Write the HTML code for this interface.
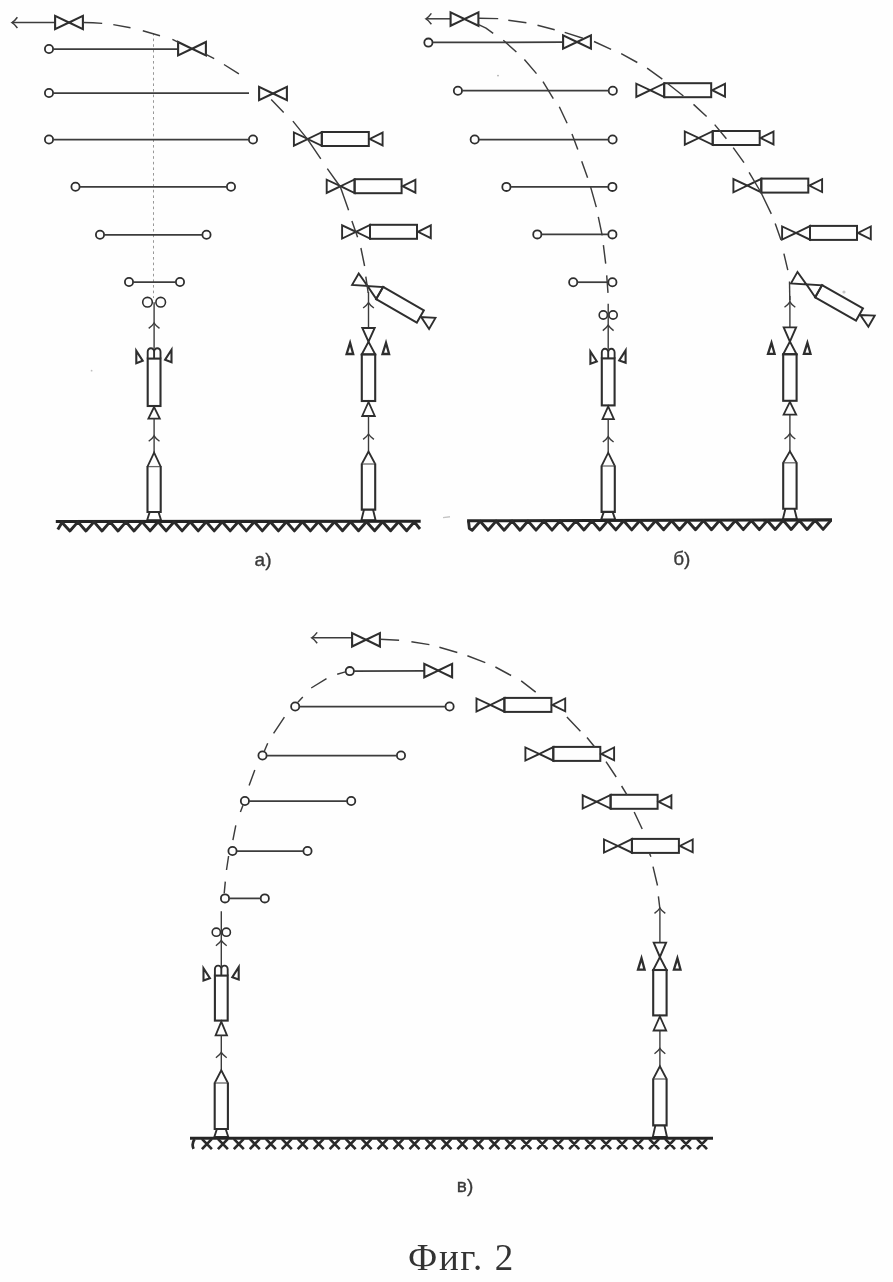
<!DOCTYPE html>
<html lang="ru">
<head>
<meta charset="utf-8">
<title>Фиг. 2</title>
<style>
html,body{margin:0;padding:0;background:#fefefe;}
body{width:893px;height:1282px;position:relative;overflow:hidden;font-family:"Liberation Sans",sans-serif;}
</style>
</head>
<body>
<svg width="893" height="1282" viewBox="0 0 893 1282" style="display:block;position:absolute;left:0;top:0;filter:blur(0.55px)">
<line x1="153.5" y1="33" x2="153.5" y2="298" stroke="#8c8c8c" stroke-width="0.9" stroke-dasharray="2.6 3"/>
<line x1="12" y1="22.6" x2="55" y2="22.6" stroke="#3c3c3c" stroke-width="1.5" />
<path d="M17.4 17.2 Q14.2 21.4 12 22.6 Q14.2 23.8 17.4 28" fill="none" stroke="#3c3c3c" stroke-width="1.5"/>
<path d="M55.1 15.8 L55.1 29.2 L69 22.5 Z" fill="none" stroke="#2e2e2e" stroke-width="2.1" stroke-linejoin="miter" />
<path d="M82.9 15.8 L82.9 29.2 L69 22.5 Z" fill="none" stroke="#2e2e2e" stroke-width="2.1" stroke-linejoin="miter" />
<circle cx="49" cy="49" r="4.1" fill="none" stroke="#2e2e2e" stroke-width="1.8"/>
<line x1="53.2" y1="49" x2="177.8" y2="49" stroke="#3c3c3c" stroke-width="1.75" />
<path d="M178.1 42 L178.1 55.4 L192 48.7 Z" fill="none" stroke="#2e2e2e" stroke-width="2.1" stroke-linejoin="miter" />
<path d="M205.9 42 L205.9 55.4 L192 48.7 Z" fill="none" stroke="#2e2e2e" stroke-width="2.1" stroke-linejoin="miter" />
<circle cx="49" cy="93" r="4.1" fill="none" stroke="#2e2e2e" stroke-width="1.8"/>
<line x1="53.2" y1="93" x2="249" y2="93" stroke="#3c3c3c" stroke-width="1.75" />
<path d="M259.1 86.8 L259.1 100.2 L273 93.5 Z" fill="none" stroke="#2e2e2e" stroke-width="2.1" stroke-linejoin="miter" />
<path d="M286.9 86.8 L286.9 100.2 L273 93.5 Z" fill="none" stroke="#2e2e2e" stroke-width="2.1" stroke-linejoin="miter" />
<circle cx="49" cy="139.5" r="4.1" fill="none" stroke="#2e2e2e" stroke-width="1.8"/>
<circle cx="253" cy="139.5" r="4.1" fill="none" stroke="#2e2e2e" stroke-width="1.8"/>
<line x1="53.1" y1="139.5" x2="248.9" y2="139.5" stroke="#3c3c3c" stroke-width="1.75" />
<circle cx="75.5" cy="186.8" r="4.1" fill="none" stroke="#2e2e2e" stroke-width="1.8"/>
<circle cx="231" cy="186.8" r="4.1" fill="none" stroke="#2e2e2e" stroke-width="1.8"/>
<line x1="79.6" y1="186.8" x2="226.9" y2="186.8" stroke="#3c3c3c" stroke-width="1.75" />
<circle cx="100" cy="234.8" r="4.1" fill="none" stroke="#2e2e2e" stroke-width="1.8"/>
<circle cx="206.5" cy="234.8" r="4.1" fill="none" stroke="#2e2e2e" stroke-width="1.8"/>
<line x1="104.1" y1="234.8" x2="202.4" y2="234.8" stroke="#3c3c3c" stroke-width="1.75" />
<circle cx="129" cy="282" r="4.1" fill="none" stroke="#2e2e2e" stroke-width="1.8"/>
<circle cx="180" cy="282" r="4.1" fill="none" stroke="#2e2e2e" stroke-width="1.8"/>
<line x1="133.1" y1="282" x2="175.9" y2="282" stroke="#3c3c3c" stroke-width="1.75" />
<g>
<path d="M293.9 132.5 L293.9 145.7 L307.8 139 Z" fill="none" stroke="#2e2e2e" stroke-width="1.9" stroke-linejoin="miter" />
<path d="M321.8 132.2 L321.8 145.8 L307.8 139 Z" fill="none" stroke="#2e2e2e" stroke-width="1.9" stroke-linejoin="miter" />
<rect x="321.8" y="132" width="47" height="14" fill="none" stroke="#2e2e2e" stroke-width="2"/>
<path d="M382.6 132.6 L382.6 145.4 L369.8 139 Z" fill="none" stroke="#2e2e2e" stroke-width="1.9" stroke-linejoin="miter" />
</g>
<g>
<path d="M326.7 179.7 L326.7 192.9 L340.6 186.2 Z" fill="none" stroke="#2e2e2e" stroke-width="1.9" stroke-linejoin="miter" />
<path d="M354.6 179.4 L354.6 193 L340.6 186.2 Z" fill="none" stroke="#2e2e2e" stroke-width="1.9" stroke-linejoin="miter" />
<rect x="354.6" y="179.2" width="47" height="14" fill="none" stroke="#2e2e2e" stroke-width="2"/>
<path d="M415.4 179.8 L415.4 192.6 L402.6 186.2 Z" fill="none" stroke="#2e2e2e" stroke-width="1.9" stroke-linejoin="miter" />
</g>
<g>
<path d="M342.1 225.3 L342.1 238.5 L356 231.8 Z" fill="none" stroke="#2e2e2e" stroke-width="1.9" stroke-linejoin="miter" />
<path d="M370 225 L370 238.6 L356 231.8 Z" fill="none" stroke="#2e2e2e" stroke-width="1.9" stroke-linejoin="miter" />
<rect x="370" y="224.8" width="47" height="14" fill="none" stroke="#2e2e2e" stroke-width="2"/>
<path d="M430.8 225.4 L430.8 238.2 L418 231.8 Z" fill="none" stroke="#2e2e2e" stroke-width="1.9" stroke-linejoin="miter" />
</g>
<g transform="rotate(30 367.5 286)">
<path d="M353.6 279.5 L353.6 292.7 L367.5 286 Z" fill="none" stroke="#2e2e2e" stroke-width="1.9" stroke-linejoin="miter" />
<path d="M381.5 279.2 L381.5 292.8 L367.5 286 Z" fill="none" stroke="#2e2e2e" stroke-width="1.9" stroke-linejoin="miter" />
<rect x="381.5" y="279" width="47" height="14" fill="none" stroke="#2e2e2e" stroke-width="2"/>
<path d="M442.3 279.6 L442.3 292.4 L429.5 286 Z" fill="none" stroke="#2e2e2e" stroke-width="1.9" stroke-linejoin="miter" />
</g>
<path d="M83 22.5 L93 22.7 L102.2 23.4 M113.3 24.6 L130.5 27.8 M142.8 30.8 L160 35.7 M172.4 39.4 L179 42.6 M205.5 54.2 L214.2 58.6 M224 64.5 L238.9 73.9 M271.2 99.6 L283.7 112.6 M292.9 121.1 L307.8 139.6 L320.8 158.8 M327.3 168.6 L340.4 187 L348.6 210.3 M351.9 221 L357.6 237.3 M360.9 248 L364.6 266 M365.8 276.6 L368.2 293" fill="none" stroke="#3c3c3c" stroke-width="1.45" stroke-linecap="butt" stroke-linejoin="round"/>
<circle cx="147.5" cy="302.2" r="4.8" fill="none" stroke="#2e2e2e" stroke-width="1.6"/>
<circle cx="160.7" cy="302.2" r="4.8" fill="none" stroke="#2e2e2e" stroke-width="1.6"/>
<line x1="154.1" y1="302.2" x2="154.1" y2="348.6" stroke="#3c3c3c" stroke-width="1.4" />
<path d="M148.7 328.4 Q152.9 325.2 154.1 323 Q155.3 325.2 159.5 328.4" fill="none" stroke="#3c3c3c" stroke-width="1.4"/>
<path d="M147.7 358.6 V351.8 A3.2 3.6 0 0 1 154.1 351.8 V358.6 M154.1 351.8 A3.2 3.6 0 0 1 160.5 351.8 V358.6" fill="none" stroke="#2e2e2e" stroke-width="1.9"/>
<rect x="147.7" y="358.6" width="12.8" height="47.4" fill="none" stroke="#2e2e2e" stroke-width="2.1"/>
<path d="M136.3 350.9 L136.3 363.2 L142.7 360.8 Z" fill="none" stroke="#2e2e2e" stroke-width="2.1" stroke-linejoin="miter" />
<path d="M171.5 349.8 L171.5 362.2 L165.1 359.8 Z" fill="none" stroke="#2e2e2e" stroke-width="2.1" stroke-linejoin="miter" />
<path d="M154.1 407 L148.4 418.6 L159.8 418.6 Z" fill="none" stroke="#2e2e2e" stroke-width="1.8" stroke-linejoin="miter" />
<line x1="154.1" y1="418.6" x2="154.1" y2="452.7" stroke="#3c3c3c" stroke-width="1.4" />
<path d="M148.7 441.2 Q152.9 438 154.1 435.8 Q155.3 438 159.5 441.2" fill="none" stroke="#3c3c3c" stroke-width="1.4"/>
<path d="M147.5 466.6 L154.1 452.7 L160.7 466.6" fill="none" stroke="#2e2e2e" stroke-width="1.8" stroke-linejoin="miter" />
<line x1="147.5" y1="466.6" x2="160.7" y2="466.6" stroke="#666" stroke-width="1.3" />
<path d="M147.5 466.1 L147.5 512 L160.7 512 L160.7 466.1" fill="none" stroke="#2e2e2e" stroke-width="2.1" stroke-linejoin="miter" />
<path d="M149.7 512 L147.1 520.2 L161.1 520.2 L158.5 512" fill="none" stroke="#2e2e2e" stroke-width="1.9" stroke-linejoin="miter" />
<line x1="368.5" y1="292" x2="368.5" y2="328" stroke="#3c3c3c" stroke-width="1.4" />
<path d="M363.1 308 Q367.3 304.8 368.5 302.6 Q369.7 304.8 373.9 308" fill="none" stroke="#3c3c3c" stroke-width="1.4"/>
<path d="M362.3 328 L374.7 328 L368.5 341.7 Z" fill="none" stroke="#2e2e2e" stroke-width="1.9" stroke-linejoin="miter" />
<path d="M361.8 354.4 L375.2 354.4 L368.5 341.7 Z" fill="none" stroke="#2e2e2e" stroke-width="1.9" stroke-linejoin="miter" />
<rect x="361.8" y="354.4" width="13.4" height="46.6" fill="none" stroke="#2e2e2e" stroke-width="2.1"/>
<path d="M346.6 354 L353.2 354 L350.1 342.9 Z" fill="none" stroke="#2e2e2e" stroke-width="2.3" stroke-linejoin="miter" />
<path d="M382.5 354 L389.1 354 L386 342.9 Z" fill="none" stroke="#2e2e2e" stroke-width="2.3" stroke-linejoin="miter" />
<path d="M368.5 402 L362.2 416 L374.8 416 Z" fill="none" stroke="#2e2e2e" stroke-width="1.8" stroke-linejoin="miter" />
<line x1="368.5" y1="416" x2="368.5" y2="451.5" stroke="#3c3c3c" stroke-width="1.4" />
<path d="M363.1 439.4 Q367.3 436.2 368.5 434 Q369.7 436.2 373.9 439.4" fill="none" stroke="#3c3c3c" stroke-width="1.4"/>
<path d="M361.8 464 L368.5 451.5 L375.2 464" fill="none" stroke="#2e2e2e" stroke-width="1.8" stroke-linejoin="miter" />
<line x1="361.8" y1="464" x2="375.2" y2="464" stroke="#666" stroke-width="1.3" />
<path d="M361.8 463.5 L361.8 509.6 L375.2 509.6 L375.2 463.5" fill="none" stroke="#2e2e2e" stroke-width="2.1" stroke-linejoin="miter" />
<path d="M364 509.6 L361.4 520.2 L375.6 520.2 L373 509.6" fill="none" stroke="#2e2e2e" stroke-width="1.9" stroke-linejoin="miter" />
<line x1="55.8" y1="521.5" x2="420.7" y2="521.3" stroke="#242424" stroke-width="3.1" />
<path d="M57.8 529.6 L62 522.4 L69.9 531 L77.9 521.9 L85.9 531 L94 521.9 L102 531 L110 521.9 L118 531 L126 521.9 L134 531 L142.1 521.9 L150.1 530.9 L158.1 521.8 L166.1 530.9 L174.1 521.8 L182.1 530.9 L190.2 521.8 L198.2 530.9 L206.2 521.8 L214.2 530.9 L222.2 521.8 L230.2 530.9 L238.3 521.8 L246.3 530.9 L254.3 521.8 L262.3 530.9 L270.3 521.8 L278.4 530.9 L286.4 521.8 L294.4 530.9 L302.4 521.8 L310.4 530.9 L318.4 521.8 L326.5 530.9 L334.5 521.7 L342.5 530.8 L350.5 521.7 L358.5 530.8 L366.5 521.7 L374.6 530.8 L382.6 521.7 L390.6 530.8 L398.6 521.7 L406.6 530.8 L414.4 521.8 L420 529" fill="none" stroke="#2a2a2a" stroke-width="2.9" stroke-linejoin="round"/>
<line x1="443" y1="517.6" x2="450" y2="516.8" stroke="#c4c4c4" stroke-width="1.4" />
<line x1="426" y1="18.8" x2="450.4" y2="18.8" stroke="#3c3c3c" stroke-width="1.5" />
<path d="M431.4 13.4 Q428.2 17.6 426 18.8 Q428.2 20 431.4 24.2" fill="none" stroke="#3c3c3c" stroke-width="1.5"/>
<path d="M450.6 12.4 L450.6 25.8 L464.5 19.1 Z" fill="none" stroke="#2e2e2e" stroke-width="2.1" stroke-linejoin="miter" />
<path d="M478.4 12.4 L478.4 25.8 L464.5 19.1 Z" fill="none" stroke="#2e2e2e" stroke-width="2.1" stroke-linejoin="miter" />
<circle cx="428.4" cy="42.6" r="4.1" fill="none" stroke="#2e2e2e" stroke-width="1.8"/>
<line x1="432.6" y1="42.4" x2="562.6" y2="42.2" stroke="#3c3c3c" stroke-width="1.75" />
<path d="M563.1 35.3 L563.1 48.7 L577 42 Z" fill="none" stroke="#2e2e2e" stroke-width="2.1" stroke-linejoin="miter" />
<path d="M590.9 35.3 L590.9 48.7 L577 42 Z" fill="none" stroke="#2e2e2e" stroke-width="2.1" stroke-linejoin="miter" />
<circle cx="457.9" cy="90.7" r="4.1" fill="none" stroke="#2e2e2e" stroke-width="1.8"/>
<circle cx="612.8" cy="90.7" r="4.1" fill="none" stroke="#2e2e2e" stroke-width="1.8"/>
<line x1="462" y1="90.7" x2="608.7" y2="90.7" stroke="#3c3c3c" stroke-width="1.75" />
<circle cx="474.7" cy="139.5" r="4.1" fill="none" stroke="#2e2e2e" stroke-width="1.8"/>
<circle cx="612.6" cy="139.5" r="4.1" fill="none" stroke="#2e2e2e" stroke-width="1.8"/>
<line x1="478.8" y1="139.5" x2="608.5" y2="139.5" stroke="#3c3c3c" stroke-width="1.75" />
<circle cx="506.4" cy="186.9" r="4.1" fill="none" stroke="#2e2e2e" stroke-width="1.8"/>
<circle cx="612.4" cy="186.9" r="4.1" fill="none" stroke="#2e2e2e" stroke-width="1.8"/>
<line x1="510.5" y1="186.9" x2="608.3" y2="186.9" stroke="#3c3c3c" stroke-width="1.75" />
<circle cx="537.3" cy="234.4" r="4.1" fill="none" stroke="#2e2e2e" stroke-width="1.8"/>
<circle cx="612.4" cy="234.4" r="4.1" fill="none" stroke="#2e2e2e" stroke-width="1.8"/>
<line x1="541.4" y1="234.4" x2="608.3" y2="234.4" stroke="#3c3c3c" stroke-width="1.75" />
<circle cx="573.2" cy="282.2" r="4.1" fill="none" stroke="#2e2e2e" stroke-width="1.8"/>
<circle cx="612.4" cy="282.2" r="4.1" fill="none" stroke="#2e2e2e" stroke-width="1.8"/>
<line x1="577.3" y1="282.2" x2="608.3" y2="282.2" stroke="#3c3c3c" stroke-width="1.75" />
<g>
<path d="M636.3 83.7 L636.3 96.9 L650.2 90.2 Z" fill="none" stroke="#2e2e2e" stroke-width="1.9" stroke-linejoin="miter" />
<path d="M664.2 83.4 L664.2 97 L650.2 90.2 Z" fill="none" stroke="#2e2e2e" stroke-width="1.9" stroke-linejoin="miter" />
<rect x="664.2" y="83.2" width="47" height="14" fill="none" stroke="#2e2e2e" stroke-width="2"/>
<path d="M725 83.8 L725 96.6 L712.2 90.2 Z" fill="none" stroke="#2e2e2e" stroke-width="1.9" stroke-linejoin="miter" />
</g>
<g>
<path d="M684.8 131.5 L684.8 144.7 L698.7 138 Z" fill="none" stroke="#2e2e2e" stroke-width="1.9" stroke-linejoin="miter" />
<path d="M712.7 131.2 L712.7 144.8 L698.7 138 Z" fill="none" stroke="#2e2e2e" stroke-width="1.9" stroke-linejoin="miter" />
<rect x="712.7" y="131" width="47" height="14" fill="none" stroke="#2e2e2e" stroke-width="2"/>
<path d="M773.5 131.6 L773.5 144.4 L760.7 138 Z" fill="none" stroke="#2e2e2e" stroke-width="1.9" stroke-linejoin="miter" />
</g>
<g>
<path d="M733.4 179.1 L733.4 192.3 L747.3 185.6 Z" fill="none" stroke="#2e2e2e" stroke-width="1.9" stroke-linejoin="miter" />
<path d="M761.3 178.8 L761.3 192.4 L747.3 185.6 Z" fill="none" stroke="#2e2e2e" stroke-width="1.9" stroke-linejoin="miter" />
<rect x="761.3" y="178.6" width="47" height="14" fill="none" stroke="#2e2e2e" stroke-width="2"/>
<path d="M822.1 179.2 L822.1 192 L809.3 185.6 Z" fill="none" stroke="#2e2e2e" stroke-width="1.9" stroke-linejoin="miter" />
</g>
<g>
<path d="M782.1 226.4 L782.1 239.6 L796 232.9 Z" fill="none" stroke="#2e2e2e" stroke-width="1.9" stroke-linejoin="miter" />
<path d="M810 226.1 L810 239.7 L796 232.9 Z" fill="none" stroke="#2e2e2e" stroke-width="1.9" stroke-linejoin="miter" />
<rect x="810" y="225.9" width="47" height="14" fill="none" stroke="#2e2e2e" stroke-width="2"/>
<path d="M870.8 226.5 L870.8 239.3 L858 232.9 Z" fill="none" stroke="#2e2e2e" stroke-width="1.9" stroke-linejoin="miter" />
</g>
<g transform="rotate(29.5 806.4 284.4)">
<path d="M792.5 277.9 L792.5 291.1 L806.4 284.4 Z" fill="none" stroke="#2e2e2e" stroke-width="1.9" stroke-linejoin="miter" />
<path d="M820.4 277.6 L820.4 291.2 L806.4 284.4 Z" fill="none" stroke="#2e2e2e" stroke-width="1.9" stroke-linejoin="miter" />
<rect x="820.4" y="277.4" width="47" height="14" fill="none" stroke="#2e2e2e" stroke-width="2"/>
<path d="M881.2 278 L881.2 290.8 L868.4 284.4 Z" fill="none" stroke="#2e2e2e" stroke-width="1.9" stroke-linejoin="miter" />
</g>
<path d="M478.5 18.2 L498.2 18.6 M508.3 20.2 L526.4 22.8 M537.5 25.2 L554.7 29.8 M564.7 32.4 L582.9 38.3 M594 41.5 L611.1 49.4 M621.2 53.6 L637.3 62.5 M647.1 68.1 L662.3 79.2 M667.3 83.3 L683.4 96 M693.5 104.4 L706.6 116.5 M714.7 124.6 L726.4 138.7 M733.2 147.6 L744 162.6 M749.1 172.3 L761 192.5 L771.3 213.9 M775.2 223.6 L781 240.1 M783.9 253.6 L787.8 270.1" fill="none" stroke="#3c3c3c" stroke-width="1.45" stroke-linecap="butt" stroke-linejoin="round"/>
<line x1="789.5" y1="281.5" x2="789.8" y2="300" stroke="#3c3c3c" stroke-width="1.4" />
<path d="M477.6 24.2 L486 28.2 L493.2 33.3 M503.3 40.3 L516.4 52 M524.4 59.5 L536.5 73.6 M543 81.6 L553.3 98.6 M559.3 106.8 L567.1 123.2 M572 133.9 L577.8 149.5 M581.7 161.2 L587.6 177.8 M590.5 186.6 L596.3 207.1 M598.3 216.8 L602.2 235.4 M603.4 245.1 L605.7 263.7 M606.7 275.4 L608 292.9" fill="none" stroke="#3c3c3c" stroke-width="1.45" stroke-linecap="butt" stroke-linejoin="round"/>
<circle cx="603.3" cy="315" r="4.1" fill="none" stroke="#2e2e2e" stroke-width="1.6"/>
<circle cx="613.1" cy="315" r="4.1" fill="none" stroke="#2e2e2e" stroke-width="1.6"/>
<line x1="608.2" y1="303.7" x2="608.2" y2="349.2" stroke="#3c3c3c" stroke-width="1.4" />
<path d="M602.8 330.6 Q607 327.4 608.2 325.2 Q609.4 327.4 613.6 330.6" fill="none" stroke="#3c3c3c" stroke-width="1.4"/>
<path d="M601.8 358.4 V352.4 A3.2 3.6 0 0 1 608.2 352.4 V358.4 M608.2 352.4 A3.2 3.6 0 0 1 614.6 352.4 V358.4" fill="none" stroke="#2e2e2e" stroke-width="1.9"/>
<rect x="601.8" y="358.4" width="12.8" height="47" fill="none" stroke="#2e2e2e" stroke-width="2.1"/>
<path d="M590.4 351.5 L590.4 363.8 L596.8 361.4 Z" fill="none" stroke="#2e2e2e" stroke-width="2.1" stroke-linejoin="miter" />
<path d="M625.6 350.4 L625.6 362.8 L619.2 360.4 Z" fill="none" stroke="#2e2e2e" stroke-width="2.1" stroke-linejoin="miter" />
<path d="M608.2 406.4 L602.5 419.2 L613.9 419.2 Z" fill="none" stroke="#2e2e2e" stroke-width="1.8" stroke-linejoin="miter" />
<line x1="608.2" y1="419.2" x2="608.2" y2="452.7" stroke="#3c3c3c" stroke-width="1.4" />
<path d="M602.8 442 Q607 438.8 608.2 436.6 Q609.4 438.8 613.6 442" fill="none" stroke="#3c3c3c" stroke-width="1.4"/>
<path d="M601.6 466 L608.2 452.7 L614.8 466" fill="none" stroke="#2e2e2e" stroke-width="1.8" stroke-linejoin="miter" />
<line x1="601.6" y1="466" x2="614.8" y2="466" stroke="#666" stroke-width="1.3" />
<path d="M601.6 465.5 L601.6 511.9 L614.8 511.9 L614.8 465.5" fill="none" stroke="#2e2e2e" stroke-width="2.1" stroke-linejoin="miter" />
<path d="M603.8 511.9 L601.2 519.4 L615.2 519.4 L612.6 511.9" fill="none" stroke="#2e2e2e" stroke-width="1.9" stroke-linejoin="miter" />
<line x1="789.9" y1="296" x2="789.9" y2="327.4" stroke="#3c3c3c" stroke-width="1.4" />
<path d="M784.5 307.2 Q788.7 304 789.9 301.8 Q791.1 304 795.3 307.2" fill="none" stroke="#3c3c3c" stroke-width="1.4"/>
<path d="M783.7 327.4 L796.1 327.4 L789.9 341.6 Z" fill="none" stroke="#2e2e2e" stroke-width="1.9" stroke-linejoin="miter" />
<path d="M783.2 354.2 L796.6 354.2 L789.9 341.6 Z" fill="none" stroke="#2e2e2e" stroke-width="1.9" stroke-linejoin="miter" />
<rect x="783.2" y="354.2" width="13.4" height="46.6" fill="none" stroke="#2e2e2e" stroke-width="2.1"/>
<path d="M768 353.8 L774.6 353.8 L771.5 342.8 Z" fill="none" stroke="#2e2e2e" stroke-width="2.3" stroke-linejoin="miter" />
<path d="M803.9 353.8 L810.5 353.8 L807.4 342.8 Z" fill="none" stroke="#2e2e2e" stroke-width="2.3" stroke-linejoin="miter" />
<path d="M789.9 401.8 L783.6 414.7 L796.2 414.7 Z" fill="none" stroke="#2e2e2e" stroke-width="1.8" stroke-linejoin="miter" />
<line x1="789.9" y1="414.7" x2="789.9" y2="451.4" stroke="#3c3c3c" stroke-width="1.4" />
<path d="M784.5 439 Q788.7 435.8 789.9 433.6 Q791.1 435.8 795.3 439" fill="none" stroke="#3c3c3c" stroke-width="1.4"/>
<path d="M783.2 462.8 L789.9 451.4 L796.6 462.8" fill="none" stroke="#2e2e2e" stroke-width="1.8" stroke-linejoin="miter" />
<line x1="783.2" y1="462.8" x2="796.6" y2="462.8" stroke="#666" stroke-width="1.3" />
<path d="M783.2 462.3 L783.2 508.8 L796.6 508.8 L796.6 462.3" fill="none" stroke="#2e2e2e" stroke-width="2.1" stroke-linejoin="miter" />
<path d="M785.4 508.8 L782.8 519.4 L797 519.4 L794.4 508.8" fill="none" stroke="#2e2e2e" stroke-width="1.9" stroke-linejoin="miter" />
<line x1="467.1" y1="520.8" x2="832" y2="519.9" stroke="#242424" stroke-width="3.1" />
<path d="M468.5 521.4 L469.4 528.5 L472.2 530.3 L480.2 521.2 L488.1 530.2 L496.1 521.1 L504.1 530.2 L512.1 521.1 L520 530.2 L528 521 L536 530.1 L544 521 L552 530.1 L559.9 521 L567.9 530.1 L575.9 520.9 L583.9 530 L591.8 520.9 L599.8 530 L607.8 520.9 L615.8 529.9 L623.7 520.8 L631.7 529.9 L639.7 520.8 L647.6 529.9 L655.6 520.7 L663.6 529.8 L671.6 520.7 L679.5 529.8 L687.5 520.7 L695.5 529.7 L703.5 520.6 L711.5 529.7 L719.4 520.6 L727.4 529.7 L735.4 520.5 L743.3 529.6 L751.3 520.5 L759.3 529.6 L767.3 520.5 L775.2 529.5 L783.2 520.4 L791.2 529.5 L799.2 520.4 L807.1 529.5 L815.1 520.3 L823.1 529.4 L831 520.3" fill="none" stroke="#2a2a2a" stroke-width="2.9" stroke-linejoin="round"/>
<line x1="311.8" y1="637.8" x2="352.4" y2="637.8" stroke="#3c3c3c" stroke-width="1.5" />
<path d="M317.2 632.4 Q314 636.6 311.8 637.8 Q314 639 317.2 643.2" fill="none" stroke="#3c3c3c" stroke-width="1.5"/>
<path d="M352.1 633.1 L352.1 646.5 L366 639.8 Z" fill="none" stroke="#2e2e2e" stroke-width="2.1" stroke-linejoin="miter" />
<path d="M379.9 633.1 L379.9 646.5 L366 639.8 Z" fill="none" stroke="#2e2e2e" stroke-width="2.1" stroke-linejoin="miter" />
<circle cx="349.8" cy="671.1" r="4.1" fill="none" stroke="#2e2e2e" stroke-width="1.8"/>
<line x1="354" y1="671.1" x2="424" y2="670.8" stroke="#3c3c3c" stroke-width="1.75" />
<path d="M424.3 663.9 L424.3 677.3 L438.2 670.6 Z" fill="none" stroke="#2e2e2e" stroke-width="2.1" stroke-linejoin="miter" />
<path d="M452.1 663.9 L452.1 677.3 L438.2 670.6 Z" fill="none" stroke="#2e2e2e" stroke-width="2.1" stroke-linejoin="miter" />
<circle cx="295.2" cy="706.5" r="4.1" fill="none" stroke="#2e2e2e" stroke-width="1.8"/>
<circle cx="449.6" cy="706.5" r="4.1" fill="none" stroke="#2e2e2e" stroke-width="1.8"/>
<line x1="299.3" y1="706.5" x2="445.5" y2="706.5" stroke="#3c3c3c" stroke-width="1.75" />
<circle cx="262.5" cy="755.5" r="4.1" fill="none" stroke="#2e2e2e" stroke-width="1.8"/>
<circle cx="401" cy="755.5" r="4.1" fill="none" stroke="#2e2e2e" stroke-width="1.8"/>
<line x1="266.6" y1="755.5" x2="396.9" y2="755.5" stroke="#3c3c3c" stroke-width="1.75" />
<circle cx="244.9" cy="801" r="4.1" fill="none" stroke="#2e2e2e" stroke-width="1.8"/>
<circle cx="351.2" cy="801" r="4.1" fill="none" stroke="#2e2e2e" stroke-width="1.8"/>
<line x1="249" y1="801" x2="347.1" y2="801" stroke="#3c3c3c" stroke-width="1.75" />
<circle cx="232.5" cy="851" r="4.1" fill="none" stroke="#2e2e2e" stroke-width="1.8"/>
<circle cx="307.5" cy="851" r="4.1" fill="none" stroke="#2e2e2e" stroke-width="1.8"/>
<line x1="236.6" y1="851" x2="303.4" y2="851" stroke="#3c3c3c" stroke-width="1.75" />
<circle cx="225" cy="898.4" r="4.1" fill="none" stroke="#2e2e2e" stroke-width="1.8"/>
<circle cx="264.8" cy="898.4" r="4.1" fill="none" stroke="#2e2e2e" stroke-width="1.8"/>
<line x1="229.1" y1="898.4" x2="260.7" y2="898.4" stroke="#3c3c3c" stroke-width="1.75" />
<g>
<path d="M476.5 698.4 L476.5 711.6 L490.4 704.9 Z" fill="none" stroke="#2e2e2e" stroke-width="1.9" stroke-linejoin="miter" />
<path d="M504.4 698.1 L504.4 711.7 L490.4 704.9 Z" fill="none" stroke="#2e2e2e" stroke-width="1.9" stroke-linejoin="miter" />
<rect x="504.4" y="697.9" width="47" height="14" fill="none" stroke="#2e2e2e" stroke-width="2"/>
<path d="M565.2 698.5 L565.2 711.3 L552.4 704.9 Z" fill="none" stroke="#2e2e2e" stroke-width="1.9" stroke-linejoin="miter" />
</g>
<g>
<path d="M525.4 747.4 L525.4 760.6 L539.3 753.9 Z" fill="none" stroke="#2e2e2e" stroke-width="1.9" stroke-linejoin="miter" />
<path d="M553.3 747.1 L553.3 760.7 L539.3 753.9 Z" fill="none" stroke="#2e2e2e" stroke-width="1.9" stroke-linejoin="miter" />
<rect x="553.3" y="746.9" width="47" height="14" fill="none" stroke="#2e2e2e" stroke-width="2"/>
<path d="M614.1 747.5 L614.1 760.3 L601.3 753.9 Z" fill="none" stroke="#2e2e2e" stroke-width="1.9" stroke-linejoin="miter" />
</g>
<g>
<path d="M582.7 795.3 L582.7 808.5 L596.6 801.8 Z" fill="none" stroke="#2e2e2e" stroke-width="1.9" stroke-linejoin="miter" />
<path d="M610.6 795 L610.6 808.6 L596.6 801.8 Z" fill="none" stroke="#2e2e2e" stroke-width="1.9" stroke-linejoin="miter" />
<rect x="610.6" y="794.8" width="47" height="14" fill="none" stroke="#2e2e2e" stroke-width="2"/>
<path d="M671.4 795.4 L671.4 808.2 L658.6 801.8 Z" fill="none" stroke="#2e2e2e" stroke-width="1.9" stroke-linejoin="miter" />
</g>
<g>
<path d="M604 839.4 L604 852.6 L617.9 845.9 Z" fill="none" stroke="#2e2e2e" stroke-width="1.9" stroke-linejoin="miter" />
<path d="M631.9 839.1 L631.9 852.7 L617.9 845.9 Z" fill="none" stroke="#2e2e2e" stroke-width="1.9" stroke-linejoin="miter" />
<rect x="631.9" y="838.9" width="47" height="14" fill="none" stroke="#2e2e2e" stroke-width="2"/>
<path d="M692.7 839.5 L692.7 852.3 L679.9 845.9 Z" fill="none" stroke="#2e2e2e" stroke-width="1.9" stroke-linejoin="miter" />
</g>
<path d="M345.4 671.9 L337.2 674.2 M326.5 678.7 L311.2 688 M302.8 697 L297.9 702.2 M284.4 717.2 L273.6 733.3 M267.7 743.2 L264.4 751 M254.8 770 L249.1 785.4 M243 805.2 L240.4 812.1 M235.8 825.4 L232.9 840.2 M228.6 856 L226.5 870 M225.3 881.6 L224.2 893.4" fill="none" stroke="#3c3c3c" stroke-width="1.45" stroke-linecap="butt" stroke-linejoin="round"/>
<path d="M380 639.2 L399.1 640.2 M411.4 641.7 L429.4 644.6 M439.4 647.3 L457.3 652.5 M467.4 655.8 L485.3 662.6 M495.4 667 L511.1 675.5 M521.2 680.9 L535.7 692.1 M566.9 716.9 L580.4 731.3 M587 737.5 L594.7 747 M606 761.7 L616.2 777 M621.6 786 L627 794.9 M634.2 812 L642.2 829 M649.4 852.9 L650.9 856.8 M653 866.7 L657.5 885.5 M658.4 896.3 L659.8 908" fill="none" stroke="#3c3c3c" stroke-width="1.45" stroke-linecap="butt" stroke-linejoin="round"/>
<circle cx="216.3" cy="932.2" r="4.1" fill="none" stroke="#2e2e2e" stroke-width="1.6"/>
<circle cx="226.3" cy="932.2" r="4.1" fill="none" stroke="#2e2e2e" stroke-width="1.6"/>
<line x1="221.3" y1="911.2" x2="221.3" y2="966" stroke="#3c3c3c" stroke-width="1.4" />
<path d="M215.9 945.8 Q220.1 942.6 221.3 940.4 Q222.5 942.6 226.7 945.8" fill="none" stroke="#3c3c3c" stroke-width="1.4"/>
<path d="M214.9 975.6 V969.2 A3.2 3.6 0 0 1 221.3 969.2 V975.6 M221.3 969.2 A3.2 3.6 0 0 1 227.7 969.2 V975.6" fill="none" stroke="#2e2e2e" stroke-width="1.9"/>
<rect x="214.9" y="975.6" width="12.8" height="45" fill="none" stroke="#2e2e2e" stroke-width="2.1"/>
<path d="M203.5 968.3 L203.5 980.6 L209.9 978.2 Z" fill="none" stroke="#2e2e2e" stroke-width="2.1" stroke-linejoin="miter" />
<path d="M238.7 967.2 L238.7 979.6 L232.3 977.2 Z" fill="none" stroke="#2e2e2e" stroke-width="2.1" stroke-linejoin="miter" />
<path d="M221.3 1021.6 L215.6 1035.3 L227 1035.3 Z" fill="none" stroke="#2e2e2e" stroke-width="1.8" stroke-linejoin="miter" />
<line x1="221.3" y1="1035.3" x2="221.3" y2="1070.3" stroke="#3c3c3c" stroke-width="1.4" />
<path d="M215.9 1057.7 Q220.1 1054.5 221.3 1052.3 Q222.5 1054.5 226.7 1057.7" fill="none" stroke="#3c3c3c" stroke-width="1.4"/>
<path d="M214.7 1083 L221.3 1070.3 L227.9 1083" fill="none" stroke="#2e2e2e" stroke-width="1.8" stroke-linejoin="miter" />
<line x1="214.7" y1="1083" x2="227.9" y2="1083" stroke="#666" stroke-width="1.3" />
<path d="M214.7 1082.5 L214.7 1129 L227.9 1129 L227.9 1082.5" fill="none" stroke="#2e2e2e" stroke-width="2.1" stroke-linejoin="miter" />
<path d="M216.9 1129 L214.3 1137 L228.3 1137 L225.7 1129" fill="none" stroke="#2e2e2e" stroke-width="1.9" stroke-linejoin="miter" />
<line x1="659.9" y1="907.8" x2="659.9" y2="942.6" stroke="#3c3c3c" stroke-width="1.4" />
<path d="M654.5 913.4 Q658.7 910.2 659.9 908 Q661.1 910.2 665.3 913.4" fill="none" stroke="#3c3c3c" stroke-width="1.4"/>
<path d="M653.7 942.6 L666.1 942.6 L659.9 957 Z" fill="none" stroke="#2e2e2e" stroke-width="1.9" stroke-linejoin="miter" />
<path d="M653.2 970 L666.6 970 L659.9 957 Z" fill="none" stroke="#2e2e2e" stroke-width="1.9" stroke-linejoin="miter" />
<rect x="653.2" y="970" width="13.4" height="45.4" fill="none" stroke="#2e2e2e" stroke-width="2.1"/>
<path d="M638 969.6 L644.6 969.6 L641.5 958.2 Z" fill="none" stroke="#2e2e2e" stroke-width="2.3" stroke-linejoin="miter" />
<path d="M673.9 969.6 L680.5 969.6 L677.4 958.2 Z" fill="none" stroke="#2e2e2e" stroke-width="2.3" stroke-linejoin="miter" />
<path d="M659.9 1016.4 L653.6 1030.5 L666.2 1030.5 Z" fill="none" stroke="#2e2e2e" stroke-width="1.8" stroke-linejoin="miter" />
<line x1="659.9" y1="1030.5" x2="659.9" y2="1066.3" stroke="#3c3c3c" stroke-width="1.4" />
<path d="M654.5 1053.8 Q658.7 1050.6 659.9 1048.4 Q661.1 1050.6 665.3 1053.8" fill="none" stroke="#3c3c3c" stroke-width="1.4"/>
<path d="M653.2 1079 L659.9 1066.3 L666.6 1079" fill="none" stroke="#2e2e2e" stroke-width="1.8" stroke-linejoin="miter" />
<line x1="653.2" y1="1079" x2="666.6" y2="1079" stroke="#666" stroke-width="1.3" />
<path d="M653.2 1078.5 L653.2 1125.4 L666.6 1125.4 L666.6 1078.5" fill="none" stroke="#2e2e2e" stroke-width="2.1" stroke-linejoin="miter" />
<path d="M655.4 1125.4 L652.8 1137 L667 1137 L664.4 1125.4" fill="none" stroke="#2e2e2e" stroke-width="1.9" stroke-linejoin="miter" />
<line x1="190" y1="1138.3" x2="713" y2="1138.3" stroke="#242424" stroke-width="3.0" />
<path d="M194.6 1139.1 Q191.2 1143.8 193.6 1148.9 M201.9 1138.9 L211.9 1149.1 M211.9 1138.9 L201.9 1149.1 M217.9 1138.9 L227.9 1149.1 M227.9 1138.9 L217.9 1149.1 M233.8 1138.9 L243.8 1149.1 M243.8 1138.9 L233.8 1149.1 M249.8 1138.9 L259.8 1149.1 M259.8 1138.9 L249.8 1149.1 M265.8 1138.9 L275.8 1149.1 M275.8 1138.9 L265.8 1149.1 M281.8 1138.9 L291.8 1149.1 M291.8 1138.9 L281.8 1149.1 M297.7 1138.9 L307.7 1149.1 M307.7 1138.9 L297.7 1149.1 M313.7 1138.9 L323.7 1149.1 M323.7 1138.9 L313.7 1149.1 M329.7 1138.9 L339.7 1149.1 M339.7 1138.9 L329.7 1149.1 M345.6 1138.9 L355.6 1149.1 M355.6 1138.9 L345.6 1149.1 M361.6 1138.9 L371.6 1149.1 M371.6 1138.9 L361.6 1149.1 M377.6 1138.9 L387.6 1149.1 M387.6 1138.9 L377.6 1149.1 M393.5 1138.9 L403.5 1149.1 M403.5 1138.9 L393.5 1149.1 M409.5 1138.9 L419.5 1149.1 M419.5 1138.9 L409.5 1149.1 M425.5 1138.9 L435.5 1149.1 M435.5 1138.9 L425.5 1149.1 M441.5 1138.9 L451.5 1149.1 M451.5 1138.9 L441.5 1149.1 M457.4 1138.9 L467.4 1149.1 M467.4 1138.9 L457.4 1149.1 M473.4 1138.9 L483.4 1149.1 M483.4 1138.9 L473.4 1149.1 M489.4 1138.9 L499.4 1149.1 M499.4 1138.9 L489.4 1149.1 M505.3 1138.9 L515.3 1149.1 M515.3 1138.9 L505.3 1149.1 M521.3 1138.9 L531.3 1149.1 M531.3 1138.9 L521.3 1149.1 M537.3 1138.9 L547.3 1149.1 M547.3 1138.9 L537.3 1149.1 M553.2 1138.9 L563.2 1149.1 M563.2 1138.9 L553.2 1149.1 M569.2 1138.9 L579.2 1149.1 M579.2 1138.9 L569.2 1149.1 M585.2 1138.9 L595.2 1149.1 M595.2 1138.9 L585.2 1149.1 M601.1 1138.9 L611.1 1149.1 M611.1 1138.9 L601.1 1149.1 M617.1 1138.9 L627.1 1149.1 M627.1 1138.9 L617.1 1149.1 M633.1 1138.9 L643.1 1149.1 M643.1 1138.9 L633.1 1149.1 M649.1 1138.9 L659.1 1149.1 M659.1 1138.9 L649.1 1149.1 M665 1138.9 L675 1149.1 M675 1138.9 L665 1149.1 M681 1138.9 L691 1149.1 M691 1138.9 L681 1149.1 M697 1138.9 L707 1149.1 M707 1138.9 L697 1149.1" fill="none" stroke="#2a2a2a" stroke-width="2.7"/>
<circle cx="498" cy="75.6" r="0.9" fill="#b0b0b0"/>
<circle cx="91.6" cy="370.7" r="0.9" fill="#c0c0c0"/>
<circle cx="844" cy="292" r="1.6" fill="#c6c6c6"/>
<text x="254.6" y="566.3" font-family="'Liberation Sans', Arial, sans-serif" font-size="19" fill="#3a3a3a" stroke="#3a3a3a" stroke-width="0.35">а)</text>
<text x="673.2" y="565.2" font-family="'Liberation Sans', Arial, sans-serif" font-size="19" fill="#3a3a3a" stroke="#3a3a3a" stroke-width="0.35">б)</text>
<text x="456.8" y="1192.1" font-family="'Liberation Sans', Arial, sans-serif" font-size="19" fill="#3a3a3a" stroke="#3a3a3a" stroke-width="0.35">в)</text>
<text x="408" y="1270.4" font-family="'Liberation Serif', 'Times New Roman', serif" font-size="37" letter-spacing="1.65" fill="#333">Фиг. 2</text>
</svg>
</body>
</html>
